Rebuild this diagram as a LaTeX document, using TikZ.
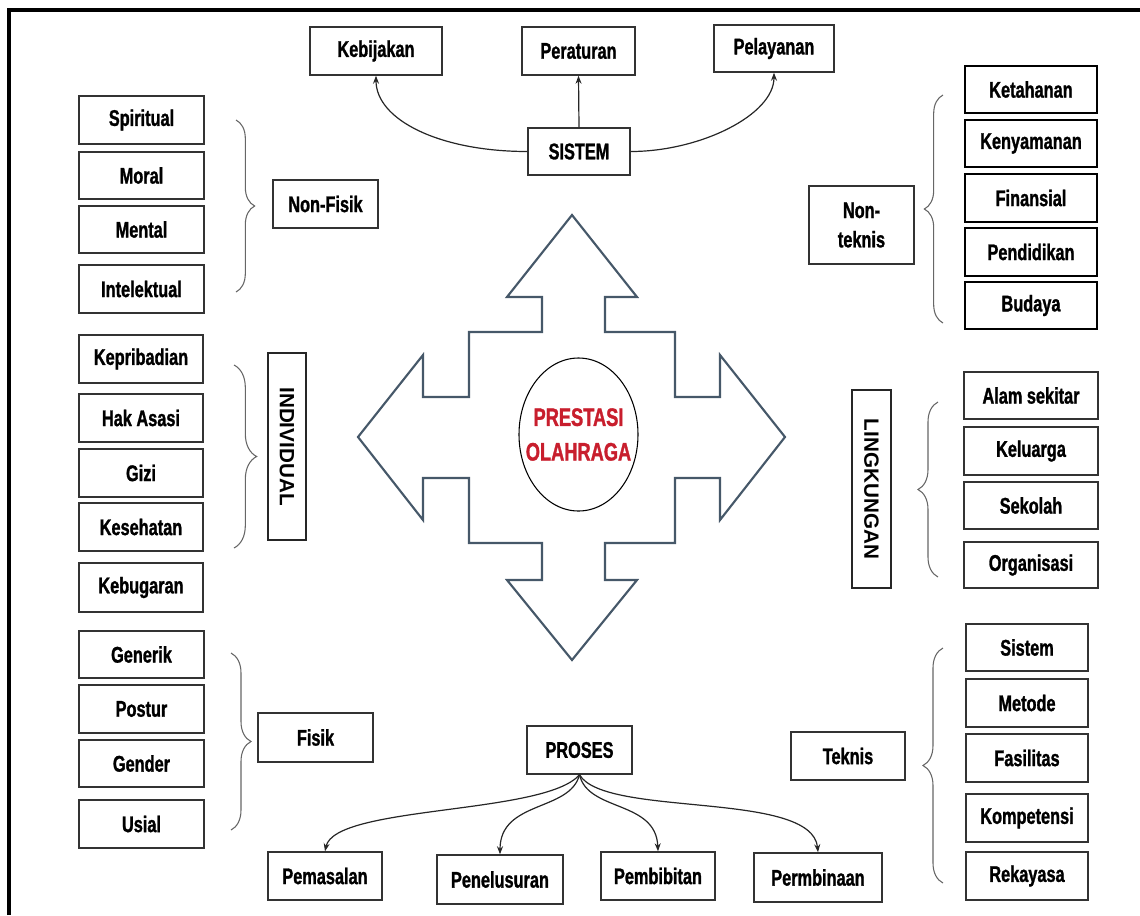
\documentclass[tikz,border=0pt]{standalone}
\usepackage{fontspec}
\setmainfont{Liberation Sans}
\newfontfamily\condf[FakeStretch=0.72,FakeBold=1.2]{Liberation Sans Bold}
\usetikzlibrary{arrows.meta,decorations.pathreplacing,shapes.geometric}
\definecolor{arrowc}{RGB}{70,88,105}
\definecolor{prred}{RGB}{200,30,45}
\newcommand\bxn[7][bx]{\node[#1, minimum width={(#5-#3)*0.75pt}, minimum height={(#6-#4)*0.75pt}] (#2) at ({(#3+#5)/2},{(#4+#6)/2}) {#7};}
\begin{document}
\begin{tikzpicture}[x=0.75pt,y=-0.75pt,
  bx/.style={draw=black!80, line width=1.1pt, inner sep=0pt, align=center, fill=white,
    font=\condf\fontsize{17}{22}\selectfont},
  bxk/.style={bx, draw=black, line width=1.7pt},
  vbox/.style={draw=black!85, line width=1.1pt, inner sep=0pt,
    font=\bfseries\fontsize{15.5}{18}\selectfont},
  brc/.style={draw=black!60, line width=0.8pt, decorate, decoration={brace, amplitude=#1}},
  brc/.default=14pt,
  conn/.style={draw=black!85, line width=0.9pt, -{Stealth[length=6pt,width=4.5pt]}},
]
\useasboundingbox (0,0) rectangle (1140,915);
% frame
\draw[line width=3pt] (9,915) -- (9,9.5) -- (1140,9.5);

% central four-way arrow
\draw[draw=arrowc, line width=1.6pt, line join=miter]
  (572,215) -- (637,297) -- (605,297) -- (605,332) -- (675,332) -- (675,397)
  -- (720,397) -- (720,355) -- (785,437) -- (720,520) -- (720,478) -- (675,478)
  -- (675,543) -- (605,543) -- (605,580) -- (637,580) -- (572,660) -- (507,580)
  -- (542,580) -- (542,543) -- (469,543) -- (469,478) -- (423,478) -- (423,520)
  -- (358,437) -- (423,355) -- (423,397) -- (469,397) -- (469,332) -- (542,332)
  -- (542,297) -- (507,297) -- cycle;
\node[ellipse, draw=black, line width=0.8pt, inner sep=0pt,
  minimum width={119*0.75pt}, minimum height={153*0.75pt}] (po) at (578.5,434.5) {};
\node[align=center, inner sep=0pt, text=prred, font=\condf\fontsize{19}{26}\selectfont]
  (pot) at (po.center) {PRESTASI\\OLAHRAGA};

% top: SISTEM
\bxn{keb}{310}{27}{442}{75}{Kebijakan}
\bxn{per}{522}{27}{635}{75}{Peraturan}
\bxn{pel}{714}{25}{834}{72}{Pelayanan}
\bxn{sis}{528}{128}{630}{175}{SISTEM}
\draw[conn] (sis.west) .. controls (440,151.5) and (376,120) .. (keb.south);
\draw[conn] (sis.north) -- (per.south);
\draw[conn] (sis.east) .. controls (700,151.5) and (774,115) .. (pel.south);

% left: Non-Fisik
\bxn{spi}{79}{96}{204}{144}{Spiritual}
\bxn{mor}{79}{152}{204}{199}{Moral}
\bxn{men}{79}{206}{204}{253}{Mental}
\bxn{int}{79}{265}{204}{313}{Intelektual}
\bxn{nf}{273}{180}{378}{228}{Non-Fisik}
\draw[brc=14pt] (236,120) -- (236,292);

% left: Individual
\bxn{kep}{79}{335}{203}{383}{Kepribadian}
\bxn{hak}{79}{394}{203}{442}{Hak Asasi}
\bxn{giz}{79}{449}{203}{497}{Gizi}
\bxn{kes}{79}{503}{203}{551}{Kesehatan}
\bxn{kbg}{79}{563}{203}{612}{Kebugaran}
\node[vbox, rotate=-90, minimum width={187*0.75pt}, minimum height={38*0.75pt}] (ind) at (287,446.5) {INDIVIDUAL};
\draw[brc=17pt] (234,365) -- (234,548);

% left: Fisik
\bxn{gen}{79}{631}{204}{678}{Generik}
\bxn{pos}{79}{685}{204}{733}{Postur}
\bxn{gnd}{79}{740}{204}{787}{Gender}
\bxn{usi}{79}{800}{204}{848}{Usial}
\bxn{fis}{258}{713}{373}{762}{Fisik}
\draw[brc=15pt] (231,653) -- (231,830);

% right: Non-teknis
\bxn[bxk]{ket}{965}{66}{1097}{113}{Ketahanan}
\bxn[bxk]{ken}{965}{120}{1097}{167}{Kenyamanan}
\bxn[bxk]{fin}{965}{174}{1097}{222}{Finansial}
\bxn[bxk]{pdd}{965}{228}{1097}{276}{Pendidikan}
\bxn[bxk]{bud}{965}{282}{1097}{329}{Budaya}
\bxn{nt}{809}{186}{914}{264}{Non-\\teknis}
\draw[brc=14pt] (943,323) -- (943,95);

% right: Lingkungan
\bxn{ala}{964}{372}{1098}{419}{Alam sekitar}
\bxn{kel}{964}{427}{1098}{475}{Keluarga}
\bxn{sek}{964}{482}{1098}{529}{Sekolah}
\bxn{org}{964}{542}{1098}{588}{Organisasi}
\node[vbox, rotate=-90, minimum width={198*0.75pt}, minimum height={39*0.75pt}] (lin) at (871.5,489) {LINGKUNGAN};
\draw[brc=15pt] (938,577) -- (938,402);

% right: Teknis
\bxn{sst}{966}{624}{1088}{671}{Sistem}
\bxn{met}{966}{679}{1088}{727}{Metode}
\bxn{fas}{966}{734}{1088}{782}{Fasilitas}
\bxn{kom}{966}{794}{1088}{842}{Kompetensi}
\bxn{rek}{966}{852}{1088}{900}{Rekayasa}
\bxn{tek}{791}{732}{905}{780}{Teknis}
\draw[brc=15pt] (943,883) -- (943,648);

% bottom: PROSES
\bxn{pro}{527}{726}{632}{774}{PROSES}
\bxn{pms}{268}{852}{382}{900}{Pemasalan}
\bxn{pnl}{437}{855}{563}{904}{Penelusuran}
\bxn{pbb}{601}{852}{715}{900}{Pembibitan}
\bxn{pmb}{754}{853}{882}{902}{Permbinaan}
\draw[conn] (pro.south) .. controls (545,815) and (335,805) .. (pms.north);
\draw[conn] (pro.south) .. controls (570,812) and (500,800) .. (pnl.north);
\draw[conn] (pro.south) .. controls (588,812) and (656,800) .. (pbb.north);
\draw[conn] (pro.south) .. controls (605,818) and (812,790) .. (pmb.north);
\end{tikzpicture}
\end{document}
